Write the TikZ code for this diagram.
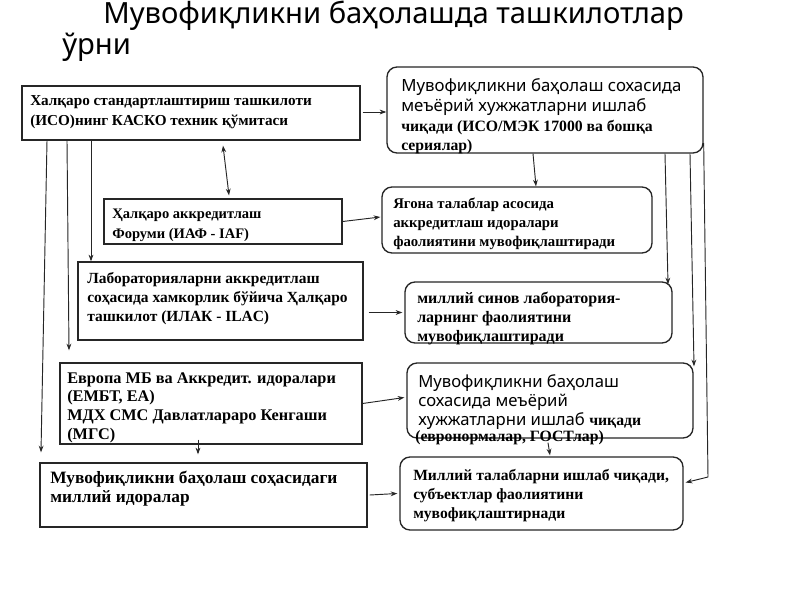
\documentclass[tikz,border=0pt]{standalone}
\usepackage{fontspec}
\setmainfont{Liberation Serif}
\newfontfamily\sansfnt{Noto Sans}
\usetikzlibrary{fit,calc,arrows.meta}
\newcommand{\txtlines}[2]{\vtop{\baselineskip=#1\relax\lineskiplimit=-\maxdimen\lineskip=0pt\let\\\cr\halign{##\hfil\cr#2\crcr}}}
\begin{document}
\begin{tikzpicture}[x=0.75pt,y=-0.75pt,
  box/.style={draw=black!85, line width=1pt, inner sep=0pt},
  rbox/.style={box, rounded corners=7.5pt},
  txt/.style={anchor=base west, inner sep=0pt},
  fs/.style={font=\bfseries\fontsize{#1}{15}\selectfont},
  sfs/.style={font=\sansfnt\bfseries\fontsize{#1}{15}\selectfont},
  ttl/.style={anchor=base west, inner sep=0pt, font=\sansfnt\bfseries\fontsize{21.9}{24}\selectfont},
  arr/.style={-{Stealth[length=5pt,width=3.6pt]}, line width=0.7pt, black!85},
  darr/.style={{Stealth[length=5pt,width=3.6pt]}-{Stealth[length=5pt,width=3.6pt]}, line width=0.7pt, black!85}
]
\useasboundingbox[fill=white] (0,0) rectangle (800,600);

% title
\node[ttl] (t1) at (103,23) {Мувофиқликни баҳолашда ташкилотлар};
\node[ttl] (t2) at (62,54) {ўрни};

% left column boxes
\node[box, fit={(22,86) (360,140)}] (A) {};
\node[txt, fs=11.4] (At) at (30,105) {\txtlines{15pt}{Халқаро стандартлаштириш ташкилоти\\(ИСО)нинг КАСКО техник қўмитаси}};

\node[box, fit={(104,199) (342,244)}] (C) {};
\node[txt, fs=10.9] (Ct) at (112,218) {\txtlines{15pt}{Ҳалқаро аккредитлаш\\Форуми (ИАФ - IAF)}};

\node[box, fit={(78,262) (363,340)}] (E) {};
\node[txt, fs=11.6] (Et) at (87,283) {\txtlines{14.3pt}{Лабораторияларни аккредитлаш\\соҳасида хамкорлик бўйича Ҳалқаро\\ташкилот (ИЛАК - ILAC)}};

\node[box, fit={(60,363) (362,444)}] (G) {};
\node[txt, fs=12.2] (Gt) at (67,383) {\txtlines{14.1pt}{Европа МБ ва Аккредит. идоралари\\(ЕМБТ, ЕА)\\МДХ СМС Давлатлараро Кенгаши\\(МГС)}};

\node[box, fit={(40,463) (367,527)}] (I) {};
\node[txt, fs=13] (It) at (50,483) {\txtlines{14.3pt}{Мувофиқликни баҳолаш соҳасидаги\\миллий идоралар}};

% right column boxes
\node[rbox, fit={(387,67) (703,153)}] (B) {};
\node[txt, sfs=12.6] (Bt1) at (401,91) {\txtlines{15.6pt}{Мувофиқликни баҳолаш сохасида\\меъёрий хужжатларни ишлаб}};
\node[txt, fs=11.8] (Bt2) at (401,131) {\txtlines{14.3pt}{чиқади (ИСО/МЭК 17000 ва бошқа\\сериялар)}};

\node[rbox, fit={(382,187) (652,253)}] (D) {};
\node[txt, fs=11.1] (Dt) at (393,208) {\txtlines{14.5pt}{Ягона талаблар асосида\\аккредитлаш идоралари\\фаолиятини мувофиқлаштиради}};

\node[rbox, fit={(405,282) (672,343)}] (F) {};
\node[txt, fs=12] (Ft) at (417,303) {\txtlines{14.6pt}{миллий синов лаборатория-\\ларнинг фаолиятини\\мувофиқлаштиради}};

\node[rbox, fit={(407,363) (693,438)}] (H) {};
\node[txt, sfs=12.5] (Ht1) at (418,387) {\txtlines{14.3pt}{Мувофиқликни баҳолаш\\сохасида меъёрий\\хужжатларни ишлаб {\rmfamily\fontsize{11.8}{14}\selectfont чиқади}}};
\node[txt, fs=11.8] (Ht2) at (415,441) {(евронормалар, ГОСТлар)};

\node[rbox, fit={(400,457) (683,530)}] (J) {};
\node[txt, fs=11.7] (Jt) at (413,480) {\txtlines{14.3pt}{Миллий талабларни ишлаб чиқади,\\субъектлар фаолиятини\\мувофиқлаштирнади}};

% connectors
\draw[arr] ($(A.east)+(2,-1)$) -- (B.west |- {$(A.east)+(0,-1)$});
\draw[darr] ($(A.south -| 223,0)+(0,5)$) -- ($(C.north -| 229,0)+(0,-3)$);
\draw[arr] (A.south -| 91,0) -- (E.north -| 91,0);
\draw[arr] (A.south -| 67,0) -- ($(G.north -| 69,0)+(0,-12)$);
\draw[arr] (A.south -| 47,0) -- ($(I.north -| 41,0)+(0,-10)$);
\draw[arr] (C.east) -- ($(D.west)+(-1,-3)$);
\draw[arr] (B.south -| 533,0) -- (D.north -| 536,0);
\draw[arr] ($(E.east |- F.west)+(5,0)$) -- ($(F.west)+(-2,0)$);
\draw[arr] (G.east) -- ($(H.west)+(-2,-3)$);
\draw[arr] ($(G.south -| 198,0)+(0,-5)$) -- ($(I.north -| 198,0)+(0,-8)$);
\draw[arr] ($(H.south -| 548,0)+(0,4)$) -- ($(J.north -| 550,0)+(0,-1)$);
\draw[arr] ($(I.east)+(2,0)$) -- ($(J.west)+(-2,0)$);
\draw[arr] (B.south -| 665,0) -- ($(F.north -| 668,0)+(0,3)$);
\draw[arr] (B.south -| 690,0) -- ($(H.north -| 694,0)+(0,4)$);
\coordinate (Jbend) at (708,477);
\draw[arr] (B.east |- 0,143) -- (Jbend) -- ($(J.east)+(2,-11)$);
\end{tikzpicture}
\end{document}
